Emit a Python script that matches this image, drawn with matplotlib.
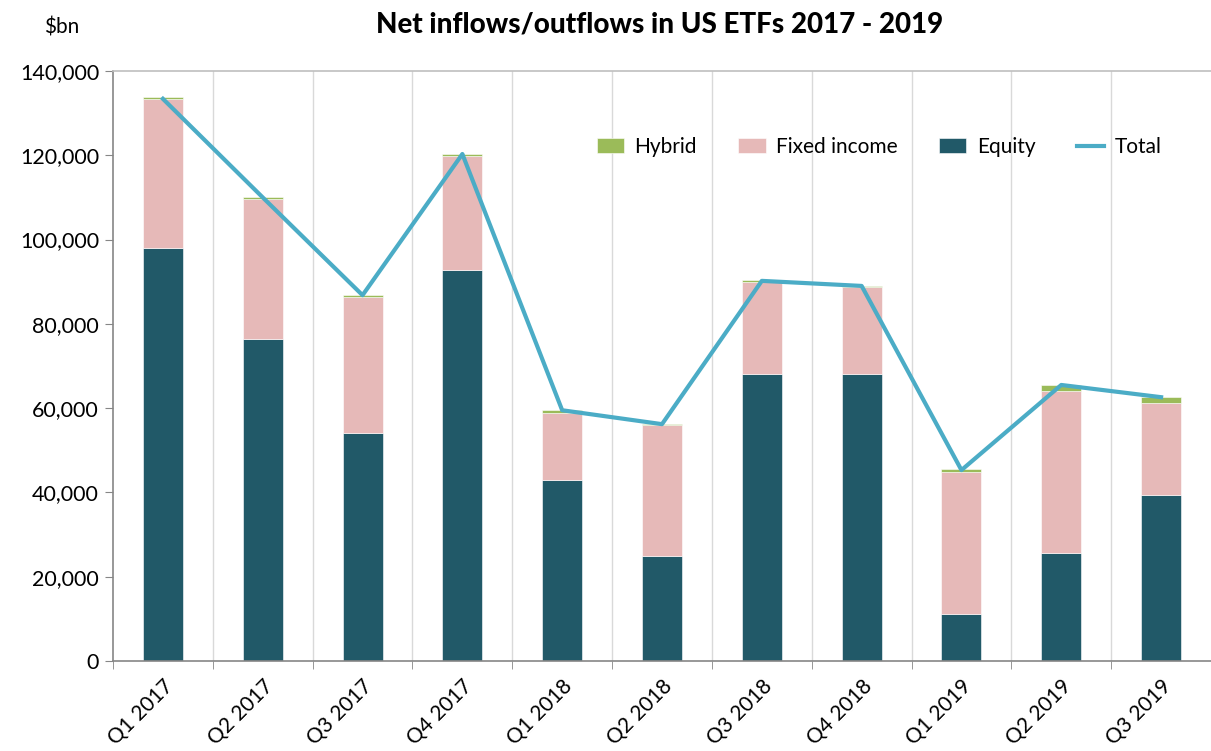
import matplotlib
matplotlib.use("Agg")
import matplotlib.pyplot as plt
import numpy as np
from matplotlib.ticker import FuncFormatter, MultipleLocator

plt.rcParams['font.family'] = ['Lato', 'DejaVu Sans']

quarters = ["Q1 2017", "Q2 2017", "Q3 2017", "Q4 2017", "Q1 2018", "Q2 2018",
            "Q3 2018", "Q4 2018", "Q1 2019", "Q2 2019", "Q3 2019"]
equity = [98000, 76400, 54100, 92800, 43000, 24900, 68000, 68000, 11200, 25600, 39500]
fixed_income = [35400, 33200, 32300, 27100, 15800, 31200, 22000, 20800, 33700, 38500, 21700]
hybrid = [400, 500, 500, 500, 800, 200, 300, 300, 600, 1500, 1500]
total = [133400, 110000, 86800, 120300, 59500, 56200, 90200, 89000, 45300, 65500, 62600]

c_eq = "#215968"
c_fi = "#E6B9B8"
c_hy = "#9BBB59"
c_tot = "#4BACC6"

fig = plt.figure(figsize=(12.11, 7.51), dpi=100)
ax = fig.add_axes([113/1211, 1-661/751, 1-113/1211, (661-71)/751])

x = np.arange(len(quarters))
w = 0.4
eq = np.array(equity)
fi = np.array(fixed_income)
hy = np.array(hybrid)
ax.bar(x, eq, w, color=c_eq, label="Equity", edgecolor="white", linewidth=0.4, zorder=2)
ax.bar(x, fi, w, bottom=eq, color=c_fi, label="Fixed income", edgecolor="white", linewidth=0.4, zorder=2)
ax.bar(x, hy, w, bottom=eq+fi, color=c_hy, label="Hybrid", edgecolor="white", linewidth=0.4, zorder=2)
ax.plot(x, total, color=c_tot, lw=3, label="Total", zorder=3)

ax.set_xlim(-0.5, len(quarters)-0.5)
ax.set_ylim(0, 140000)
ax.yaxis.set_major_locator(MultipleLocator(20000))
ax.yaxis.set_major_formatter(FuncFormatter(lambda v, p: f"{int(v):,}"))

# category boundary gridlines
for b in np.arange(0.5, len(quarters)-0.5, 1):
    ax.axvline(b, color="#D9D9D9", lw=1, zorder=0)
ax.set_xticks(x)
ax.set_xticklabels(quarters, rotation=45, ha="right", va="top", rotation_mode="anchor", fontsize=15)
ax.tick_params(axis='x', length=0, pad=11)
ax.set_xticks(np.arange(-0.5, len(quarters), 1), minor=True)
ax.tick_params(axis='x', which='minor', length=6, color="#868686")
ax.tick_params(axis='y', length=6, color="#868686", labelsize=15.5, pad=4)

for s in ["left", "bottom"]:
    ax.spines[s].set_color("#868686")
    ax.spines[s].set_linewidth(1.2)
ax.spines["top"].set_color("#BFBFBF")
ax.spines["top"].set_linewidth(1.2)
ax.spines["right"].set_visible(False)

handles, labels = ax.get_legend_handles_labels()
order = ["Hybrid", "Fixed income", "Equity", "Total"]
hmap = dict(zip(labels, handles))
ax.legend([hmap[k] for k in order], order, loc="upper right", bbox_to_anchor=(0.972, 0.92),
          ncol=4, frameon=False, fontsize=15, handlelength=1.3, handletextpad=0.5,
          columnspacing=2.0)

fig.text(660/1211, 1-25/751, "Net inflows/outflows in US ETFs 2017 - 2019", ha="center", va="center",
         fontsize=20, fontweight="black")
fig.text(62/1211, 1-27/751, "$bn", ha="center", va="center", fontsize=15)

fig.savefig("out.png", dpi=100)
